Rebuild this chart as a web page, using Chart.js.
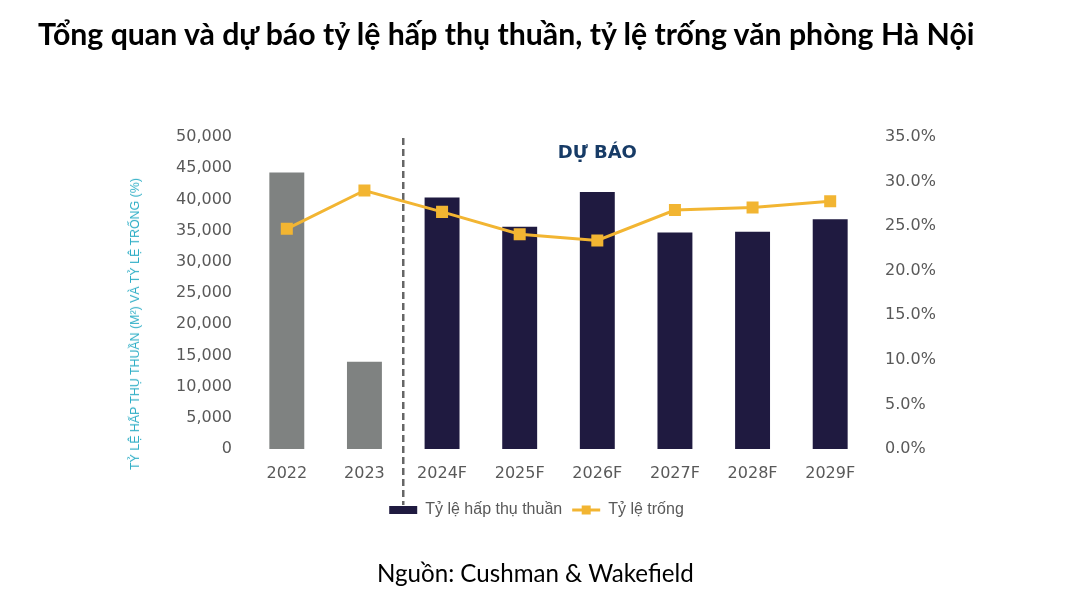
<!DOCTYPE html>
<html>
<head>
<meta charset="utf-8">
<script src="https://cdn.jsdelivr.net/npm/chart.js@4.4.1/dist/chart.umd.min.js"></script>
<style>
  html, body { margin: 0; padding: 0; background: #fff; }
  #wrap { position: relative; width: 1066px; height: 604px; overflow: hidden; background:#fff; }
  #c { position: absolute; left: 0; top: 0; }
  #title { position: absolute; left: 38px; top: 15px; font-family: Lato, sans-serif; font-weight: 700; font-size: 25px; color: #000; white-space: nowrap; }
  #source { position: absolute; left: 377px; top: 558px; font-family: Lato, sans-serif; font-size: 22px; color: #000; white-space: nowrap; }
  #ytitle { position: absolute; left: 135px; top: 324px; transform: translate(-50%, -50%) rotate(-90deg); font-family: "Liberation Sans", Arial, sans-serif; font-size: 12px; color: #2eaec6; white-space: nowrap; }
</style>
</head>
<body>
<div id="wrap">
  <canvas id="c" width="1066" height="604"></canvas>
  <div id="title">Tổng quan và dự báo tỷ lệ hấp thụ thuần, tỷ lệ trống văn phòng Hà Nội</div>
  <div id="ytitle">TỶ LỆ HẤP THỤ THUẦN (M²) VÀ TỶ LỆ TRỐNG (%)</div>
  <div id="source">Nguồn: Cushman &amp; Wakefield</div>
</div>
<script>
// ---- data ----
const categories = ['2022', '2023', '2024F', '2025F', '2026F', '2027F', '2028F', '2029F'];
const netAbsorption = [44300, 14000, 40300, 35600, 41200, 34700, 34800, 36800];
const vacancyRate = [24.7, 29.0, 26.6, 24.1, 23.4, 26.8, 27.1, 27.8];
const seriesNames = ['Tỷ lệ hấp thụ thuần', 'Tỷ lệ trống'];
const forecastLabel = 'DỰ BÁO';
const firstForecastIndex = 2;

// ---- styles ----
const GREY = '#7f8281';
const NAVY = '#1f1a40';
const GOLD = '#f2b532';
const TICK = '#595959';

function fitWidth(id, target, rotated) {
  const el = document.getElementById(id);
  const r = el.getBoundingClientRect();
  const w = rotated ? r.height : r.width;
  const fs = parseFloat(getComputedStyle(el).fontSize);
  el.style.fontSize = (fs * target / w) + 'px';
}

const forecastPlugin = {
  id: 'forecast',
  beforeDatasetsDraw(chart) {
    const x = chart.scales.x;
    const xp = (x.getPixelForValue(firstForecastIndex - 1) + x.getPixelForValue(firstForecastIndex)) / 2;
    const ctx = chart.ctx;
    ctx.save();
    ctx.strokeStyle = '#666666';
    ctx.lineWidth = 2.5;
    ctx.setLineDash([7, 4]);
    ctx.beginPath();
    ctx.moveTo(xp, chart.chartArea.top + 1);
    ctx.lineTo(xp, 505);
    ctx.stroke();
    ctx.restore();
  },
  afterDraw(chart) {
    const ctx = chart.ctx;
    const x = chart.scales.x;
    ctx.save();
    ctx.fillStyle = '#173b66';
    ctx.font = 'bold 18px "DejaVu Sans"';
    ctx.textAlign = 'center';
    ctx.textBaseline = 'middle';
    ctx.fillText(forecastLabel, x.getPixelForValue(4), chart.chartArea.top + 16);
    // marker on legend line
    const lg = chart.legend;
    const hb = lg.legendHitBoxes[1];
    if (hb) {
      const bw = lg.options.labels.pointStyleWidth;
      const fs = lg.options.labels.font.size;
      ctx.fillStyle = GOLD;
      ctx.fillRect(hb.left + bw / 2 - 4.5, hb.top + fs / 2 - 4.5, 9, 9);
    }
    ctx.restore();
  }
};

new Chart(document.getElementById('c'), {
  data: {
    labels: categories,
    datasets: [
      {
        type: 'bar',
        label: seriesNames[0],
        data: netAbsorption,
        yAxisID: 'y',
        backgroundColor: (c) => c.dataIndex < firstForecastIndex ? GREY : NAVY,
        barPercentage: 0.45,
        categoryPercentage: 1,
        order: 1
      },
      {
        type: 'line',
        label: seriesNames[1],
        data: vacancyRate,
        yAxisID: 'y1',
        borderColor: GOLD,
        backgroundColor: GOLD,
        borderWidth: 3,
        pointStyle: 'rect',
        pointRadius: 8.5,
        pointBorderWidth: 0,
        pointBackgroundColor: GOLD,
        tension: 0,
        order: 0
      }
    ]
  },
  options: {
    responsive: false,
    animation: false,
    devicePixelRatio: 1,
    layout: { padding: { left: 110, right: 103, top: 137, bottom: 76 } },
    plugins: {
      tooltip: { enabled: false },
      legend: {
        position: 'bottom',
        labels: {
          usePointStyle: true,
          pointStyleWidth: 28,
          boxHeight: 8,
          padding: 10,
          color: TICK,
          font: { family: '"Liberation Sans", Arial, sans-serif', size: 16 },
          sort: (a, b) => a.datasetIndex - b.datasetIndex,
          generateLabels(chart) {
            const items = Chart.defaults.plugins.legend.labels.generateLabels(chart);
            items.forEach(it => {
              if (it.datasetIndex === 0) {
                it.pointStyle = 'rect'; it.fillStyle = NAVY; it.strokeStyle = NAVY; it.lineWidth = 0;
              } else {
                it.pointStyle = 'line'; it.fillStyle = GOLD; it.strokeStyle = GOLD; it.lineWidth = 3;
              }
            });
            return items;
          }
        }
      }
    },
    scales: {
      x: {
        grid: { display: false, drawTicks: false },
        border: { display: false },
        ticks: { color: TICK, font: { family: '"DejaVu Sans"', size: 16 }, padding: 15 },
        afterFit: (s) => { s.height = 43; }
      },
      y: {
        position: 'left',
        min: 0, max: 50000,
        grid: { display: false, drawTicks: false },
        border: { display: false },
        ticks: {
          stepSize: 5000,
          color: TICK,
          padding: 16,
          font: { family: '"DejaVu Sans"', size: 16 },
          callback: (v) => v.toLocaleString('en-US')
        },
        afterFit: (s) => { s.width = 138; }
      },
      y1: {
        position: 'right',
        min: 0, max: 35,
        grid: { display: false, drawTicks: false },
        border: { display: false },
        ticks: {
          stepSize: 5,
          color: TICK,
          padding: 16,
          font: { family: '"DejaVu Sans"', size: 16 },
          callback: (v) => v.toFixed(1) + '%'
        },
        afterFit: (s) => { s.width = 94; }
      }
    }
  },
  plugins: [forecastPlugin]
});

fitWidth('title', 937);
fitWidth('source', 317);
fitWidth('ytitle', 292, true);
</script>
</body>
</html>
